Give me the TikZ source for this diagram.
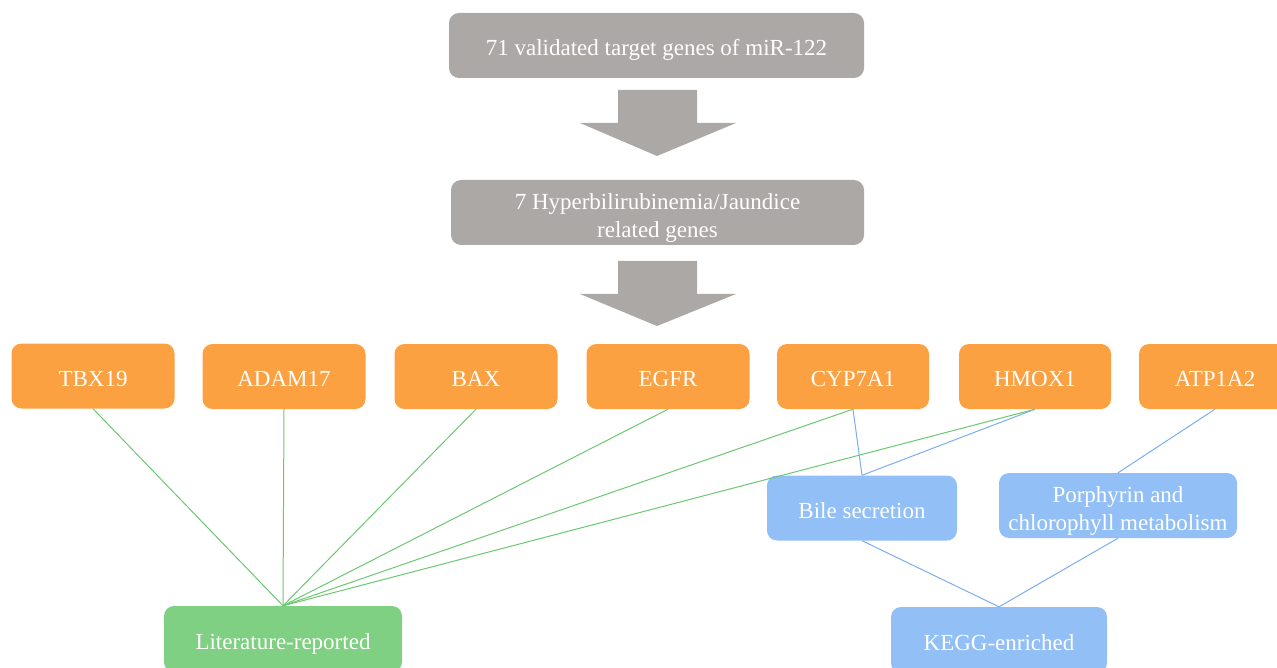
\documentclass[tikz,border=0pt]{standalone}
\usepackage{fontspec}
\setmainfont{Liberation Serif}
\usetikzlibrary{positioning}

\definecolor{stepgray}{HTML}{ABA8A6}
\definecolor{geneorange}{HTML}{FBA141}
\definecolor{pathblue}{HTML}{92BFF6}
\definecolor{litgreen}{HTML}{7FD082}
\definecolor{greenline}{HTML}{6CC870}
\definecolor{blueline}{HTML}{7AAEF0}
\newcommand{\boxstrut}{\rule[-5pt]{0pt}{30pt}}
\newcommand{\firstline}{\rule{0pt}{27pt}}

\begin{document}
\begin{tikzpicture}[x=1pt, y=-1pt,
  box/.style={rounded corners=10pt, text=white, font=\fontsize{23}{28}\selectfont, align=center, inner sep=0pt, execute at begin node=\boxstrut},
  stepbox/.style={box, fill=stepgray, minimum width=415pt, minimum height=65pt},
  gene/.style={box, fill=geneorange, minimum width=163pt, minimum height=65pt},
  pathway/.style={box, fill=pathblue, minimum height=65pt},
  litlink/.style={greenline, line width=1pt},
  kegglink/.style={blueline, line width=1pt}]
\path[use as bounding box] (0,0) rectangle (1277,668);
\node[stepbox] (targets) at (656.5,45.5) {71 validated target genes of miR-122};
\node[stepbox, minimum width=413pt] (jaundice) at (657.5,212.5) {\firstline 7 Hyperbilirubinemia/Jaundice\\related genes};
\fill[stepgray] (618,90) -- (697,90) -- (697,123) -- (736,123) -- (657,156) -- (580,123) -- (618,123) -- cycle;
\fill[stepgray] (618,261) -- (697,261) -- (697,294) -- (736,294) -- (657,326) -- (580,294) -- (618,294) -- cycle;
\node[gene] (TBX19) at (93,376) {TBX19};
\node[gene] (ADAM17) at (284,376.5) {ADAM17};
\node[gene] (BAX) at (476,376.5) {BAX};
\node[gene] (EGFR) at (668,376.5) {EGFR};
\node[gene, minimum width=152pt] (CYP7A1) at (853,376.5) {CYP7A1};
\node[gene, minimum width=152pt] (HMOX1) at (1035,376.5) {HMOX1};
\node[gene, minimum width=152pt] (ATP1A2) at (1215,376.5) {ATP1A2};
\node[pathway, minimum width=190pt] (bile) at (862,508) {Bile secretion};
\node[pathway, minimum width=238pt] (porphyrin) at (1118,505.5) {\firstline Porphyrin and\\chlorophyll metabolism};
\node[box, fill=litgreen, minimum width=238pt, minimum height=66pt] (literature) at (283,639) {Literature-reported};
\node[pathway, minimum width=216pt, minimum height=66pt] (kegg) at (999,640) {KEGG-enriched};
\foreach \g in {TBX19,ADAM17,BAX,EGFR,CYP7A1,HMOX1}
  \draw[litlink] (\g.south) -- (literature.north);
\draw[kegglink] (CYP7A1.south) -- (bile.north);
\draw[kegglink] (HMOX1.south) -- (bile.north);
\draw[kegglink] (ATP1A2.south) -- (porphyrin.north);
\draw[kegglink] (bile.south) -- (kegg.north);
\draw[kegglink] (porphyrin.south) -- (kegg.north);
\end{tikzpicture}
\end{document}
